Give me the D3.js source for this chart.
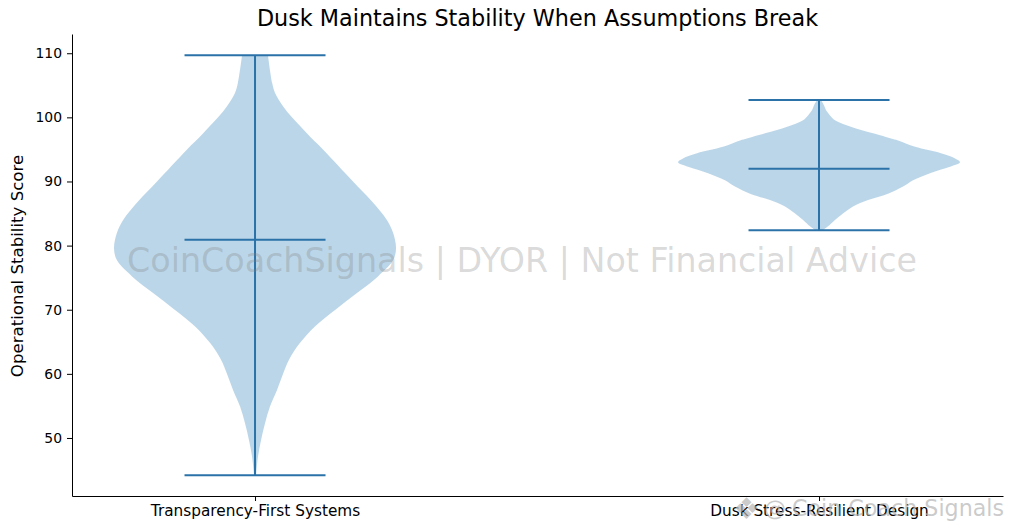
<!DOCTYPE html>
<html>
<head>
<meta charset="utf-8">
<script src="https://cdn.jsdelivr.net/npm/d3@7"></script>
<style>
  html, body { margin: 0; padding: 0; background: #fff; }
  svg { display: block; }
  text { font-family: "DejaVu Sans", sans-serif; }
  .axis path, .axis line { stroke: #000; stroke-width: 1; }
  .axis text { fill: #000; font-size: 13.9px; }
  .x.axis text { font-size: 15.3px; }
</style>
</head>
<body>
<div id="chart"></div>
<script>
var categories = ["Transparency-First Systems", "Dusk Stress-Resilient Design"];
var y_ticks = [50, 60, 70, 80, 90, 100, 110];

// score / relative density pairs (1 = widest point)
var scores_a = [109.7, 105.3, 103.8, 101.7, 100, 97.5, 95, 90, 87, 84, 82, 79.6, 77.7, 75.2, 72.6, 70, 67.4, 64.8, 62.2, 60, 57.5, 54.9, 52.3, 49.7, 47.1, 44.2];
var density_a = [0.092, 0.122, 0.142, 0.2, 0.262, 0.369, 0.482, 0.695, 0.825, 0.935, 0.979, 1, 0.979, 0.872, 0.723, 0.57, 0.425, 0.318, 0.241, 0.199, 0.156, 0.106, 0.071, 0.043, 0.021, 0.007];
var scores_b = [102.7, 101.9, 101.1, 100.3, 99.55, 98.8, 98.25, 97.7, 97.2, 96.7, 96.4, 95.4, 94.4, 93.6, 93, 92.3, 91.3, 90.2, 89.2, 88.1, 87.1, 86.1, 85, 84, 83, 82.4];
var density_b = [0.014, 0.035, 0.05, 0.078, 0.113, 0.19, 0.262, 0.348, 0.433, 0.511, 0.56, 0.681, 0.865, 0.965, 1, 0.929, 0.787, 0.667, 0.596, 0.489, 0.348, 0.241, 0.17, 0.113, 0.064, 0.028];

var mins = [44.2, 82.4];
var maxs = [109.7, 102.7];
var means = [80.9, 92.0];

var title = "Dusk Maintains Stability When Assumptions Break";
var y_label = "Operational Stability Score";
var watermark = "CoinCoachSignals | DYOR | Not Financial Advice";
var footer_mark = "Coin Coach Signals";

var margin = {top: 34, right: 9, bottom: 35, left: 72},
    width = 1012 - margin.left - margin.right,
    height = 531 - margin.top - margin.bottom,
    blue = "#1f77b4",
    line_blue = "#2a72a8";

var svg = d3.select("#chart").append("svg")
    .attr("width", 1012)
    .attr("height", 531);

var focus = svg.append("g")
    .attr("transform", "translate(" + margin.left + "," + margin.top + ")");

// matplotlib style positions: categories sit at 1 and 2
var x = d3.scaleLinear().domain([0.6755, 2.3262]).range([0, width]);
var y = d3.scaleLinear().domain([40.95, 113]).range([height, 0]);

var violins = [
  {pos: 1, scores: scores_a, density: density_a},
  {pos: 2, scores: scores_b, density: density_b}
];

violins.forEach(function (v, i) {
  var area = d3.area()
      .curve(d3.curveCatmullRom.alpha(0.5))
      .y(function (d, j) { return y(v.scores[j]); })
      .x0(function (d) { return x(v.pos - 0.25 * d); })
      .x1(function (d) { return x(v.pos + 0.25 * d); });

  focus.append("path")
      .datum(v.density)
      .attr("d", area)
      .attr("fill", blue)
      .attr("fill-opacity", 0.3);

  var caps = [mins[i], maxs[i], means[i]];
  focus.selectAll(".cap" + i)
      .data(caps)
    .enter().append("line")
      .attr("class", "cap" + i)
      .attr("x1", x(v.pos - 0.125))
      .attr("x2", x(v.pos + 0.125))
      .attr("y1", function (d) { return y(d); })
      .attr("y2", function (d) { return y(d); })
      .attr("stroke", line_blue)
      .attr("stroke-width", 2);

  focus.append("line")
      .attr("x1", x(v.pos))
      .attr("x2", x(v.pos))
      .attr("y1", y(mins[i]))
      .attr("y2", y(maxs[i]))
      .attr("stroke", line_blue)
      .attr("stroke-width", 2);
});

var xAxis = d3.axisBottom(x)
    .tickValues([1, 2])
    .tickSizeInner(5)
    .tickSizeOuter(0)
    .tickPadding(4)
    .tickFormat(function (d) { return categories[d - 1]; });

var yAxis = d3.axisLeft(y)
    .tickValues(y_ticks)
    .tickSizeInner(5)
    .tickSizeOuter(0)
    .tickPadding(5);

focus.append("g")
    .attr("class", "x axis")
    .attr("transform", "translate(0," + height + ")")
    .call(xAxis);

focus.append("g")
    .attr("class", "y axis")
    .call(yAxis);

svg.append("text")
    .attr("x", 537.5)
    .attr("y", 26)
    .attr("text-anchor", "middle")
    .attr("font-size", 22.3)
    .attr("fill", "#000")
    .text(title);

svg.append("text")
    .attr("transform", "translate(23,266) rotate(-90)")
    .attr("text-anchor", "middle")
    .attr("font-size", 16.6)
    .attr("fill", "#000")
    .text(y_label);

svg.append("text")
    .attr("x", 522)
    .attr("y", 272)
    .attr("text-anchor", "middle")
    .attr("font-size", 33.3)
    .attr("fill", "#808080")
    .attr("fill-opacity", 0.3)
    .text(watermark);

// stamp in the bottom corner, on top of the axis
var stamp = svg.append("g").attr("fill", "#b4b4b4").attr("fill-opacity", 0.7);
stamp.append("text")
    .attr("x", 733)
    .attr("y", 519)
    .attr("font-size", 30)
    .text("\u2756");
stamp.append("text")
    .attr("x", 764)
    .attr("y", 516)
    .attr("font-size", 22)
    .text("@");
stamp.append("text")
    .attr("x", 792)
    .attr("y", 516)
    .attr("font-size", 22.2)
    .text(footer_mark);
</script>
</body>
</html>
